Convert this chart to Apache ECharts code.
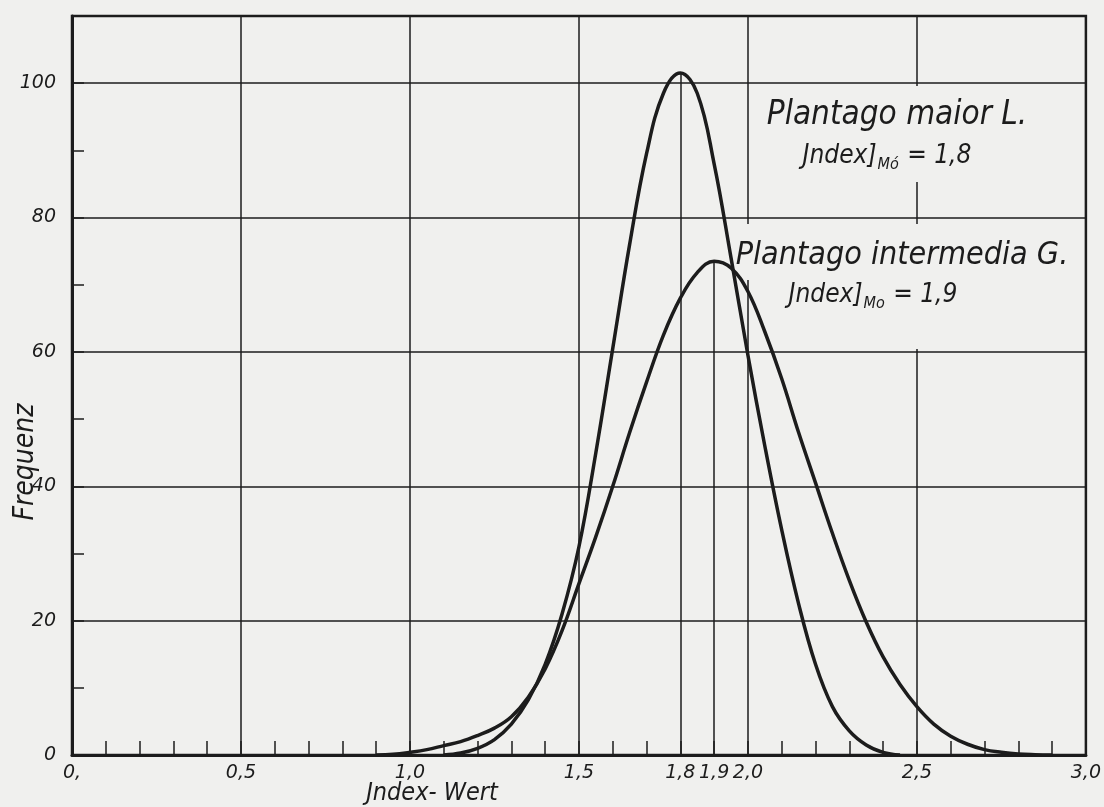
<!DOCTYPE html>
<html lang="de">
<head>
    <meta charset="UTF-8">
    <script src="https://cdn.jsdelivr.net/npm/echarts@6/dist/echarts.min.js"></script>
    <title>Plantago Index-Wert</title>
    <style>
        html, body { margin: 0; padding: 0; background: #f0f0ee; }
        #chart { width: 1104px; height: 807px; }
    </style>
</head>
<body>
<div id="chart"></div>
<script type="text/javascript">

    // Index-Wert (x) und Frequenz der beiden Kurven
    var indexWert = [0.90, 0.95, 1.00, 1.05, 1.10, 1.15, 1.20, 1.25, 1.30, 1.35,
        1.40, 1.45, 1.50, 1.55, 1.60, 1.65, 1.70, 1.75, 1.80, 1.85,
        1.90, 1.95, 2.00, 2.05, 2.10, 2.15, 2.20, 2.25, 2.30, 2.35,
        2.40, 2.45, 2.50, 2.55, 2.60, 2.65, 2.70, 2.75, 2.80, 2.85, 2.90];
    var maiorFreq = [null, null, null, null, 0, 0.3, 1.0, 2.3, 4.6, 8.2,
        13.5, 21, 31, 45, 60.5, 76, 89.5, 98.5, 101.5, 98.5,
        88, 74, 59.5, 46, 33.5, 22.5, 13.5, 7.2, 3.6, 1.5,
        0.4, 0, null, null, null, null, null, null, null, null, null];
    var intermediaFreq = [0, 0.1, 0.4, 0.8, 1.4, 2.0, 2.9, 4.0, 5.7, 8.6,
        12.8, 18.5, 25.5, 32.5, 40, 48, 55.5, 62.5, 68, 71.8,
        73.5, 72.5, 69, 63, 56, 48, 40.5, 33, 26, 19.8,
        14.6, 10.5, 7.2, 4.6, 2.8, 1.6, 0.8, 0.4, 0.15, 0.05, 0];
    var xLabelValues = [0, 0.5, 1.0, 1.5, 1.8, 1.9, 2.0, 2.5, 3.0];

    var ink = '#1c1c1c';
    var paper = '#f0f0ee';
    var narrow = "'Liberation Sans Narrow', 'DejaVu Sans Condensed', 'Liberation Sans', sans-serif";
    var plain = "'DejaVu Sans', 'Liberation Sans', sans-serif";

    function pairs(ys) {
        return indexWert.map(function (x, i) { return [x, ys[i]]; });
    }

    // Modal-Linie: vom Nullpunkt bis zum Gipfel der Kurve
    function modeLine(ys) {
        var bi = -1;
        for (var i = 0; i < ys.length; i++) {
            if (ys[i] != null && (bi < 0 || ys[i] > ys[bi])) bi = i;
        }
        return [[{coord: [indexWert[bi], 0]}, {coord: [indexWert[bi], ys[bi]]}]];
    }

    function xLabel(v) {
        for (var i = 0; i < xLabelValues.length; i++) {
            if (Math.abs(v - xLabelValues[i]) < 1e-6) {
                return xLabelValues[i] === 0 ? '0,' : xLabelValues[i].toFixed(1).replace('.', ',');
            }
        }
        return '';
    }

    var labelStyle = {
        color: ink, fontSize: 19, fontStyle: 'italic', fontFamily: plain
    };

    var subRich = {
        a: {fontSize: 26, lineHeight: 26, verticalAlign: 'top', fontStyle: 'italic', fontFamily: narrow, fill: ink},
        s: {fontSize: 16, lineHeight: 16, padding: [14, 1, 0, 1], verticalAlign: 'top', fontStyle: 'italic', fontFamily: narrow, fill: ink}
    };

    var chart = echarts.init(document.getElementById('chart'));
    var option = {
        backgroundColor: paper,
        animation: false,
        grid: {
            left: 72, right: 14, top: 16, bottom: 52,
            show: true, borderColor: ink, borderWidth: 2.5
        },
        xAxis: [
            {
                type: 'value', min: 0, max: 3, interval: 0.1,
                axisLine: {lineStyle: {color: ink, width: 3}},
                axisTick: {inside: true, length: 14, lineStyle: {color: ink, width: 1.5}},
                axisLabel: Object.assign({formatter: xLabel, margin: 9}, labelStyle),
                splitLine: {show: false}
            },
            {
                type: 'value', min: 0, max: 3, interval: 0.5, position: 'bottom',
                axisLine: {show: false},
                axisTick: {show: false},
                axisLabel: {show: false},
                splitLine: {show: true, lineStyle: {color: ink, width: 1.5}}
            }
        ],
        yAxis: [
            {
                type: 'value', min: 0, max: 110, interval: 20,
                axisLine: {show: true, lineStyle: {color: ink, width: 3}},
                axisTick: {show: false},
                axisLabel: Object.assign({showMaxLabel: false, margin: 16}, labelStyle),
                splitLine: {show: true, lineStyle: {color: ink, width: 1.5}}
            },
            {
                type: 'value', min: 0, max: 110, interval: 10, position: 'left',
                axisLine: {show: false},
                axisTick: {show: true, inside: true, length: 12, lineStyle: {color: ink, width: 1.5}},
                axisLabel: {show: false},
                splitLine: {show: false}
            }
        ],
        series: [
            {
                name: 'Plantago maior L.',
                type: 'line',
                data: pairs(maiorFreq),
                smooth: 0.4,
                showSymbol: false,
                z: 3,
                lineStyle: {color: ink, width: 3.5},
                markLine: {
                    silent: true, symbol: ['none', 'none'], label: {show: false},
                    lineStyle: {color: ink, width: 1.5, type: 'solid'},
                    data: modeLine(maiorFreq)
                }
            },
            {
                name: 'Plantago intermedia G.',
                type: 'line',
                data: pairs(intermediaFreq),
                smooth: 0.4,
                showSymbol: false,
                z: 3,
                lineStyle: {color: ink, width: 3.5},
                markLine: {
                    silent: true, symbol: ['none', 'none'], label: {show: false},
                    lineStyle: {color: ink, width: 1.5, type: 'solid'},
                    data: modeLine(intermediaFreq)
                }
            }
        ],
        graphic: [
            // Papierflaechen hinter der Beschriftung
            {type: 'rect', z: 1, shape: {x: 752, y: 86, width: 332, height: 96}, style: {fill: paper}},
            {type: 'rect', z: 1, shape: {x: 738, y: 224, width: 346, height: 56}, style: {fill: paper}},
            {type: 'rect', z: 1, shape: {x: 760, y: 280, width: 324, height: 69}, style: {fill: paper}},
            {
                type: 'text', z: 10, x: 897, y: 115,
                style: {
                    text: 'Plantago maior L.', fill: ink, fontSize: 33, fontStyle: 'italic',
                    fontFamily: narrow, align: 'center', verticalAlign: 'middle'
                }
            },
            {
                type: 'text', z: 10, x: 887, y: 143,
                style: {
                    text: '{a|Jndex]}{s|Mó}{a| = 1,8}', fill: ink, align: 'center', verticalAlign: 'top',
                    rich: subRich
                }
            },
            {
                type: 'text', z: 10, x: 902, y: 256,
                style: {
                    text: 'Plantago intermedia G.', fill: ink, fontSize: 32, fontStyle: 'italic',
                    fontFamily: narrow, align: 'center', verticalAlign: 'middle'
                }
            },
            {
                type: 'text', z: 10, x: 873, y: 282,
                style: {
                    text: '{a|Jndex]}{s|Mo}{a| = 1,9}', fill: ink, align: 'center', verticalAlign: 'top',
                    rich: subRich
                }
            },
            {
                type: 'text', z: 10, x: 26, y: 462, rotation: Math.PI / 2,
                style: {
                    text: 'Frequenz', fill: ink, fontSize: 28, fontStyle: 'italic',
                    fontFamily: narrow, align: 'center', verticalAlign: 'middle'
                }
            },
            {
                type: 'text', z: 10, x: 432, y: 793,
                style: {
                    text: 'Jndex- Wert', fill: ink, fontSize: 25, fontStyle: 'italic',
                    fontFamily: narrow, align: 'center', verticalAlign: 'middle'
                }
            }
        ]
    };
    chart.setOption(option);
</script>
</body>
</html>
